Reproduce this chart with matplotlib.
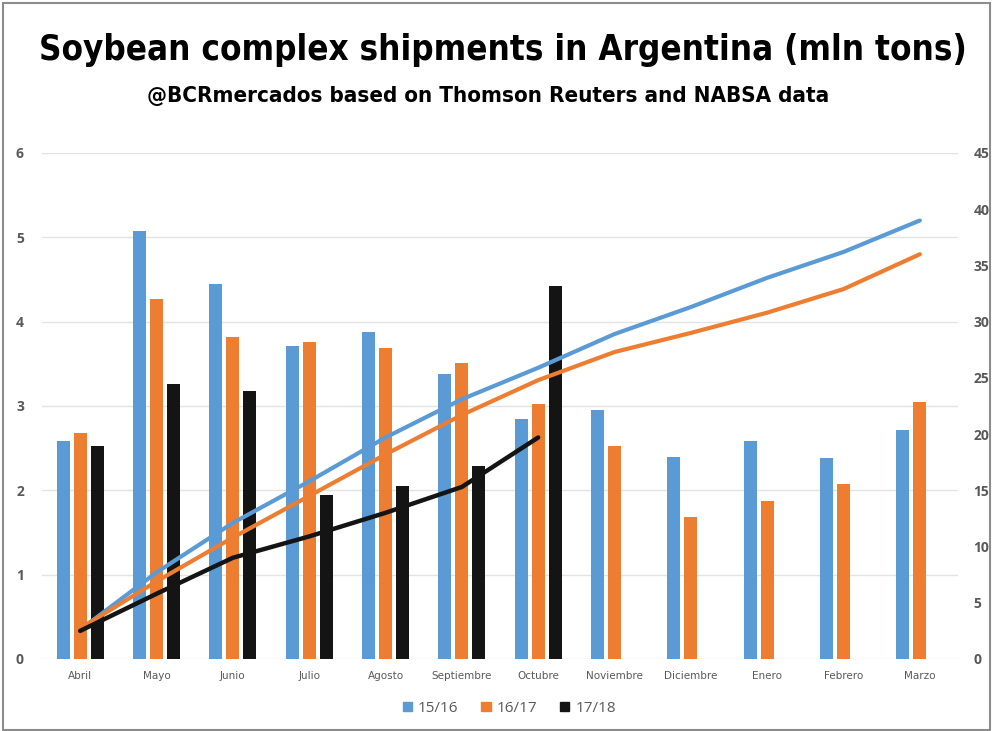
import matplotlib
matplotlib.use("Agg")
import matplotlib.pyplot as plt
import numpy as np
from matplotlib.patches import Rectangle

months = ["Abril", "Mayo", "Junio", "Julio", "Agosto", "Septiembre", "Octubre",
          "Noviembre", "Diciembre", "Enero", "Febrero", "Marzo"]
bars_1516 = [2.59, 5.08, 4.45, 3.71, 3.88, 3.38, 2.84, 2.95, 2.40, 2.58, 2.38, 2.72]
bars_1617 = [2.68, 4.27, 3.82, 3.76, 3.69, 3.51, 3.02, 2.53, 1.68, 1.87, 2.07, 3.05]
bars_1718 = [2.53, 3.26, 3.18, 1.95, 2.05, 2.29, 4.42]
cum_1516 = [2.6, 7.7, 12.1, 15.8, 19.7, 23.1, 25.9, 28.9, 31.3, 33.9, 36.2, 39.0]
cum_1617 = [2.7, 6.9, 10.8, 14.5, 18.2, 21.7, 24.8, 27.3, 29.0, 30.8, 32.9, 36.0]
cum_1718 = [2.5, 5.8, 9.0, 10.9, 13.0, 15.3, 19.7]
series = ["15/16", "16/17", "17/18"]
left_ticks = [0, 1, 2, 3, 4, 5, 6]
right_ticks = [0, 5, 10, 15, 20, 25, 30, 35, 40, 45]

c_blue = "#5b9bd5"
c_orange = "#ed7d31"
c_black = "#141414"
txt = "#595959"

fig = plt.figure(figsize=(9.93, 7.31), dpi=100)
fig.patch.set_facecolor("white")

ax = fig.add_axes([0.0423, 0.0985, 0.9225, 0.6922])
ax2 = ax.twinx()

x = np.arange(len(months))
w = 0.17
off = 0.222
ax.bar(x - off, bars_1516, w, color=c_blue, label=series[0], zorder=2)
ax.bar(x, bars_1617, w, color=c_orange, label=series[1], zorder=2)
x3 = np.arange(len(bars_1718))
ax.bar(x3 + off, bars_1718, w, color=c_black, label=series[2], zorder=2)

ax2.plot(x, cum_1516, color=c_blue, lw=3, solid_capstyle="round", solid_joinstyle="round")
ax2.plot(x, cum_1617, color=c_orange, lw=3, solid_capstyle="round", solid_joinstyle="round")
ax2.plot(x3, cum_1718, color=c_black, lw=3.2, solid_capstyle="round", solid_joinstyle="round")

ax.set_xlim(-0.5, len(months) - 0.5)
ax.set_ylim(0, 6)
ax2.set_ylim(0, 45)
ax.set_yticks(left_ticks)
ax2.set_yticks(right_ticks)
ax.set_xticks(x)
ax.set_xticklabels(months, fontsize=7.5, color=txt, family="DejaVu Sans")
ax.yaxis.grid(True, color="#e3e3e3", lw=1, zorder=0)
ax.set_axisbelow(True)
for a in (ax, ax2):
    for s in a.spines.values():
        s.set_visible(False)
ax.tick_params(axis="y", length=0, pad=13, labelsize=10, labelcolor=txt)
ax.tick_params(axis="x", length=0, pad=9)
ax2.tick_params(axis="y", length=0, pad=11, labelsize=10, labelcolor=txt)
for lab in ax.get_yticklabels() + ax2.get_yticklabels():
    lab.set_fontweight("bold")
    lab.set_family(["Open Sans", "DejaVu Sans"])

handles = [Rectangle((0, 0), 1, 1, color=c) for c in (c_blue, c_orange, c_black)]
fig.legend(handles, series, loc="center", bbox_to_anchor=(0.513, 0.031), ncol=3,
           frameon=False, handlelength=0.6, handleheight=0.6,
           handletextpad=0.4, columnspacing=1.5,
           prop={"family": ["Open Sans", "DejaVu Sans"], "size": 11})
for t in fig.legends[0].get_texts():
    t.set_color(txt)

fig.text(0.506, 0.932, "Soybean complex shipments in Argentina (mln tons)",
         ha="center", va="center", fontsize=25, fontweight="bold", stretch="condensed",
         family="DejaVu Sans", color="black")
fig.text(0.492, 0.868, "@BCRmercados based on Thomson Reuters and NABSA data",
         ha="center", va="center", fontsize=16, fontweight="bold", stretch="condensed",
         family="DejaVu Sans", color="black")

fig.patches.append(Rectangle((0.003, 0.002), 0.994, 0.994, transform=fig.transFigure,
                             fill=False, edgecolor="#8c8c8c", lw=1.5))

fig.savefig("out.png", dpi=100, facecolor="white")
